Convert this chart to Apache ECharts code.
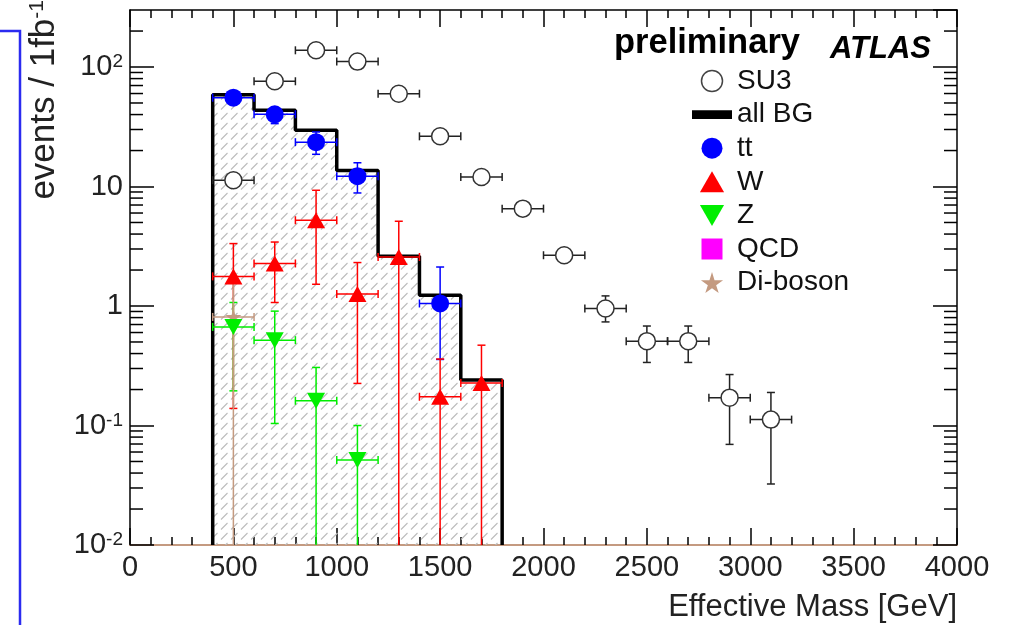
<!DOCTYPE html>
<html><head><meta charset="utf-8">
<script src="https://cdn.jsdelivr.net/npm/echarts@6/dist/echarts.min.js"></script>
<style>html,body{margin:0;padding:0;background:#fff}#c{width:1010px;height:625px}</style>
</head><body><div id="c"></div>
<script>
// ---------------- data ----------------
const binHalf = 100;
const su3X  = [500,700,900,1100,1300,1500,1700,1900,2100,2300,2500,2700,2900,3100];
const su3Y  = [11.3,76,138,111,59.8,26.3,12.0,6.53,2.66,0.953,0.508,0.508,0.171,0.112];
const su3Lo = [10.4,72.5,133,107,57.5,25.2,11.2,5.9,2.4,0.736,0.337,0.337,0.0695,0.0324];
const su3Hi = [12.2,79.5,143,115,62.2,27.4,12.8,7.2,2.95,1.215,0.68,0.68,0.267,0.189];

const bgLo = [400,600,800,1000,1200,1400,1600];
const bgHi = [600,800,1000,1200,1400,1600,1800];
const bgY  = [58.7,43.4,29.5,13.6,2.61,1.23,0.24];

const ttX  = [500,700,900,1100,1500];
const ttY  = [55.4,40.2,23.5,12.2,1.05];
const ttLo = [51.5,33.6,18.6,8.83,0.357];
const ttHi = [59.5,44.8,28.6,15.8,2.12];

const wX  = [500,700,900,1100,1300,1500,1700];
const wY  = [1.77,2.27,5.22,1.26,2.57,0.174,0.227];
const wLo = [0.139,1.07,1.52,0.225,0,0,0];
const wHi = [3.33,3.43,9.3,2.31,5.12,0.36,0.47];

const zX  = [500,700,900,1100];
const zY  = [0.668,0.518,0.161,0.0514];
const zLo = [0.195,0.104,0,0];
const zHi = [1.07,0.906,0.306,0.1];

const qcdX = [];
const qcdY = [];

const dbX  = [500];
const dbY  = [0.81];
const dbLo = [0];
const dbHi = [1.7];

const xMin = 0, xMax = 4000, xStep = 500;
const yMin = 0.01, yMax = 300;
const yDecades = [0.01, 0.1, 1, 10, 100];
const yMinorMult = [2,3,4,5,6,7,8,9];

// ---------------- helpers ----------------
const FONT = 'Liberation Sans';
const C = {su3:'#333333', bg:'#000000', tt:'#0000ff', w:'#ff0000', z:'#00ee00', qcd:'#ff00ff', db:'#c49a80'};
const STAR = 'path://M50,0L61,35L98,35L68,57L79,91L50,70L21,91L32,57L2,35L39,35Z';
const TRI_UP = 'path://M50,0L100,87L0,87Z';
const TRI_DN = 'path://M0,0L100,0L50,87Z';

function pts(xs, ys){ return xs.map((x,i)=>[x, ys[i]]); }
function errData(xs, ys, lo, hi){ return xs.map((x,i)=>[x, ys[i], binHalf, lo[i], hi[i]]); }

function errRender(color){
  const cap = 4;
  return function(params, api){
    const x = api.value(0), y = api.value(1), xe = api.value(2), lo = api.value(3), hi = api.value(4);
    const cs = params.coordSys;
    const bottom = cs.y + cs.height;
    const c = api.coord([x, y]);
    const xl = api.coord([x - xe, y])[0], xr = api.coord([x + xe, y])[0];
    const yHi = api.coord([x, hi])[1];
    const toAxis = !(lo > yMin);
    const yLo = toAxis ? bottom : api.coord([x, lo])[1];
    const st = {stroke: color, lineWidth: 1.5};
    const ch = [
      {type:'line', shape:{x1:xl,y1:c[1],x2:xr,y2:c[1]}, style:st},
      {type:'line', shape:{x1:xl,y1:c[1]-cap,x2:xl,y2:c[1]+cap}, style:st},
      {type:'line', shape:{x1:xr,y1:c[1]-cap,x2:xr,y2:c[1]+cap}, style:st},
      {type:'line', shape:{x1:c[0],y1:yHi,x2:c[0],y2:yLo}, style:st},
      {type:'line', shape:{x1:c[0]-cap,y1:yHi,x2:c[0]+cap,y2:yHi}, style:st}
    ];
    if (!toAxis) ch.push({type:'line', shape:{x1:c[0]-cap,y1:yLo,x2:c[0]+cap,y2:yLo}, style:st});
    return {type:'group', children: ch};
  };
}
function errSeries(name, xs, ys, lo, hi, color){
  return {type:'custom', name: name + ' err', xAxisIndex:0, yAxisIndex:0, z:3,
    renderItem: errRender(color), encode:{x:0, y:1}, data: errData(xs, ys, lo, hi), silent:true};
}

// log minor ticks on both vertical frame sides, placed through the axis scales
const yMinorTicks = [];
yDecades.forEach(d=>yMinorMult.forEach(m=>{
  const v = d*m;
  if (v < yMax) { yMinorTicks.push([xMin, v, 1]); yMinorTicks.push([xMax, v, -1]); }
}));
function minorTickRender(params, api){
  const p = api.coord([api.value(0), api.value(1)]);
  const dir = api.value(2);
  return {type:'line', shape:{x1:p[0], y1:p[1], x2:p[0] + dir*13, y2:p[1]}, style:{stroke:'#000', lineWidth:1.5}};
}

// hatch pattern
const hatch = document.createElement('canvas');
hatch.width = 10; hatch.height = 10;
(function(){
  const g = hatch.getContext('2d');
  g.strokeStyle = '#bcbcbc'; g.lineWidth = 1.1;
  g.beginPath(); g.moveTo(1,9.5); g.lineTo(7.5,3); g.stroke();
})();

// step line for all BG
const bgLine = [[bgLo[0], yMin]];
bgLo.forEach((lo,i)=>{ bgLine.push([lo, bgY[i]], [bgHi[i], bgY[i]]); });
bgLine.push([bgHi[bgHi.length-1], yMin]);

function yLabel(v){
  const e = Math.round(Math.log10(v));
  if (Math.abs(Math.log10(v) - e) > 1e-6) return '';
  if (e === 0) return '1';
  if (e === 1) return '10';
  return '10{s|' + e + '}';
}

const chart = echarts.init(document.getElementById('c'), null, {renderer:'canvas'});
const axisText = {fontFamily: FONT, fontSize: 29, color: '#222'};
const tickStyle = {color:'#000', width:1.5};

const option = {
  animation: false,
  backgroundColor: '#fff',
  grid: {left:130, right:53, top:10, bottom:80, containLabel:false},
  xAxis: [
    {type:'value', position:'bottom', min:xMin, max:xMax, interval:xStep,
     axisLine:{show:true, onZero:false, lineStyle:{color:C.db, width:2}},
     axisTick:{show:true, inside:true, length:17, lineStyle:tickStyle},
     minorTick:{show:true, splitNumber:5, length:8, lineStyle:tickStyle},
     axisLabel:Object.assign({margin:8, formatter:(v)=>String(v)}, axisText),
     splitLine:{show:false}, minorSplitLine:{show:false},
     name:'Effective Mass [GeV]', nameLocation:'end', nameGap:0,
     nameTextStyle:{fontFamily:FONT, fontSize:31, color:'#222', align:'right', verticalAlign:'top', padding:[47,0,0,0]}},
    {type:'value', position:'top', min:xMin, max:xMax, interval:xStep,
     axisLine:{show:true, onZero:false, lineStyle:{color:'#000', width:1.5}},
     axisTick:{show:true, inside:true, length:17, lineStyle:tickStyle},
     minorTick:{show:true, splitNumber:5, length:8, lineStyle:tickStyle},
     axisLabel:{show:false}, splitLine:{show:false}}
  ],
  yAxis: [
    {type:'log', logBase:10, position:'left', min:yMin, max:yMax, interval:1,
     axisLine:{show:true, onZero:false, lineStyle:{color:'#000', width:1.5}},
     axisTick:{show:true, inside:true, length:24, lineStyle:tickStyle},
     axisLabel:Object.assign({margin:7, formatter:yLabel, showMaxLabel:false,
        rich:{s:{fontFamily:FONT, fontSize:19, color:'#222', verticalAlign:'top'}}}, axisText),
     splitLine:{show:false}},
    {type:'log', logBase:10, position:'right', min:yMin, max:yMax, interval:1,
     axisLine:{show:true, onZero:false, lineStyle:{color:'#000', width:1.5}},
     axisTick:{show:true, inside:true, length:24, lineStyle:tickStyle},
     axisLabel:{show:false}, splitLine:{show:false}}
  ],
  legend: {
    orient:'vertical', left:687, top:61, itemWidth:40, itemHeight:21, itemGap:3.6, selectedMode:false,
    textStyle:{fontFamily:FONT, fontSize:28, color:'#111', lineHeight:30},
    data:[
      {name:'SU3', icon:'circle', itemStyle:{color:'#fff', borderColor:'#444', borderWidth:1.5, opacity:1}},
      {name:'all BG', icon:'path://M0,0h32v7h-32z', itemStyle:{color:'#000', borderWidth:0, opacity:1}},
      {name:'tt', icon:'circle', itemStyle:{color:C.tt, borderWidth:0, opacity:1}},
      {name:'W', icon:TRI_UP, itemStyle:{color:C.w, borderWidth:0, opacity:1}},
      {name:'Z', icon:TRI_DN, itemStyle:{color:C.z, borderWidth:0, opacity:1}},
      {name:'QCD', icon:'path://M0,0h10v10h-10z', itemStyle:{color:C.qcd, borderWidth:0, opacity:1}},
      {name:'Di-boson', icon:STAR, itemStyle:{color:C.db, borderWidth:0, opacity:1}}
    ]
  },
  graphic: [
    {type:'polyline', shape:{points:[[0,31],[20,31],[20,625]]}, style:{stroke:'#2b2bf0', lineWidth:2.5, fill:null}, silent:true},
    {type:'text', x:44, y:0, rotation:Math.PI/2,
     style:{text:'{a|events / 1fb}{s|-1}', align:'right', verticalAlign:'middle', fill:'#222',
       rich:{a:{fontFamily:FONT, fontSize:35, fill:'#222'}, s:{fontFamily:FONT, fontSize:21, verticalAlign:'top', fill:'#222'}}}},
    {type:'text', x:614, y:43, style:{text:'preliminary', fontFamily:FONT, fontWeight:'bold', fontSize:34.5, fill:'#000', verticalAlign:'middle'}},
    {type:'text', x:830, y:49, style:{text:'ATLAS', fontFamily:FONT, fontWeight:'bold', fontStyle:'italic', fontSize:31, fill:'#000', verticalAlign:'middle'}}
  ],
  series: [
    {type:'custom', name:'minor ticks', xAxisIndex:0, yAxisIndex:0, z:6, silent:true, clip:false,
     renderItem: minorTickRender, encode:{x:0, y:1}, data: yMinorTicks},
    {type:'line', name:'all BG', xAxisIndex:0, yAxisIndex:0, data:bgLine, symbol:'none', z:1,
     lineStyle:{color:C.bg, width:3.5}, areaStyle:{origin:'start', color:{image:hatch, repeat:'repeat'}, opacity:1}},
    errSeries('SU3', su3X, su3Y, su3Lo, su3Hi, '#222'),
    errSeries('tt', ttX, ttY, ttLo, ttHi, C.tt),
    errSeries('W', wX, wY, wLo, wHi, C.w),
    errSeries('Z', zX, zY, zLo, zHi, C.z),
    errSeries('Di-boson', dbX, dbY, dbLo, dbHi, C.db),
    {type:'scatter', name:'Di-boson', data:pts(dbX, dbY), symbol:STAR, symbolSize:16, z:4, itemStyle:{color:C.db, opacity:1}},
    {type:'scatter', name:'QCD', data:pts(qcdX, qcdY), symbol:'rect', symbolSize:14, z:4, itemStyle:{color:C.qcd, opacity:1}},
    {type:'scatter', name:'Z', data:pts(zX, zY), symbol:TRI_DN, symbolSize:[18,16], z:4, itemStyle:{color:C.z, opacity:1}},
    {type:'scatter', name:'W', data:pts(wX, wY), symbol:TRI_UP, symbolSize:[18,16], z:4, itemStyle:{color:C.w, opacity:1}},
    {type:'scatter', name:'tt', data:pts(ttX, ttY), symbol:'circle', symbolSize:18, z:4, itemStyle:{color:C.tt, opacity:1}},
    {type:'scatter', name:'SU3', data:pts(su3X, su3Y), symbol:'circle', symbolSize:17, z:5,
     itemStyle:{color:'#fff', borderColor:C.su3, borderWidth:1.5, opacity:1}}
  ]
};
chart.setOption(option);
</script></body></html>
